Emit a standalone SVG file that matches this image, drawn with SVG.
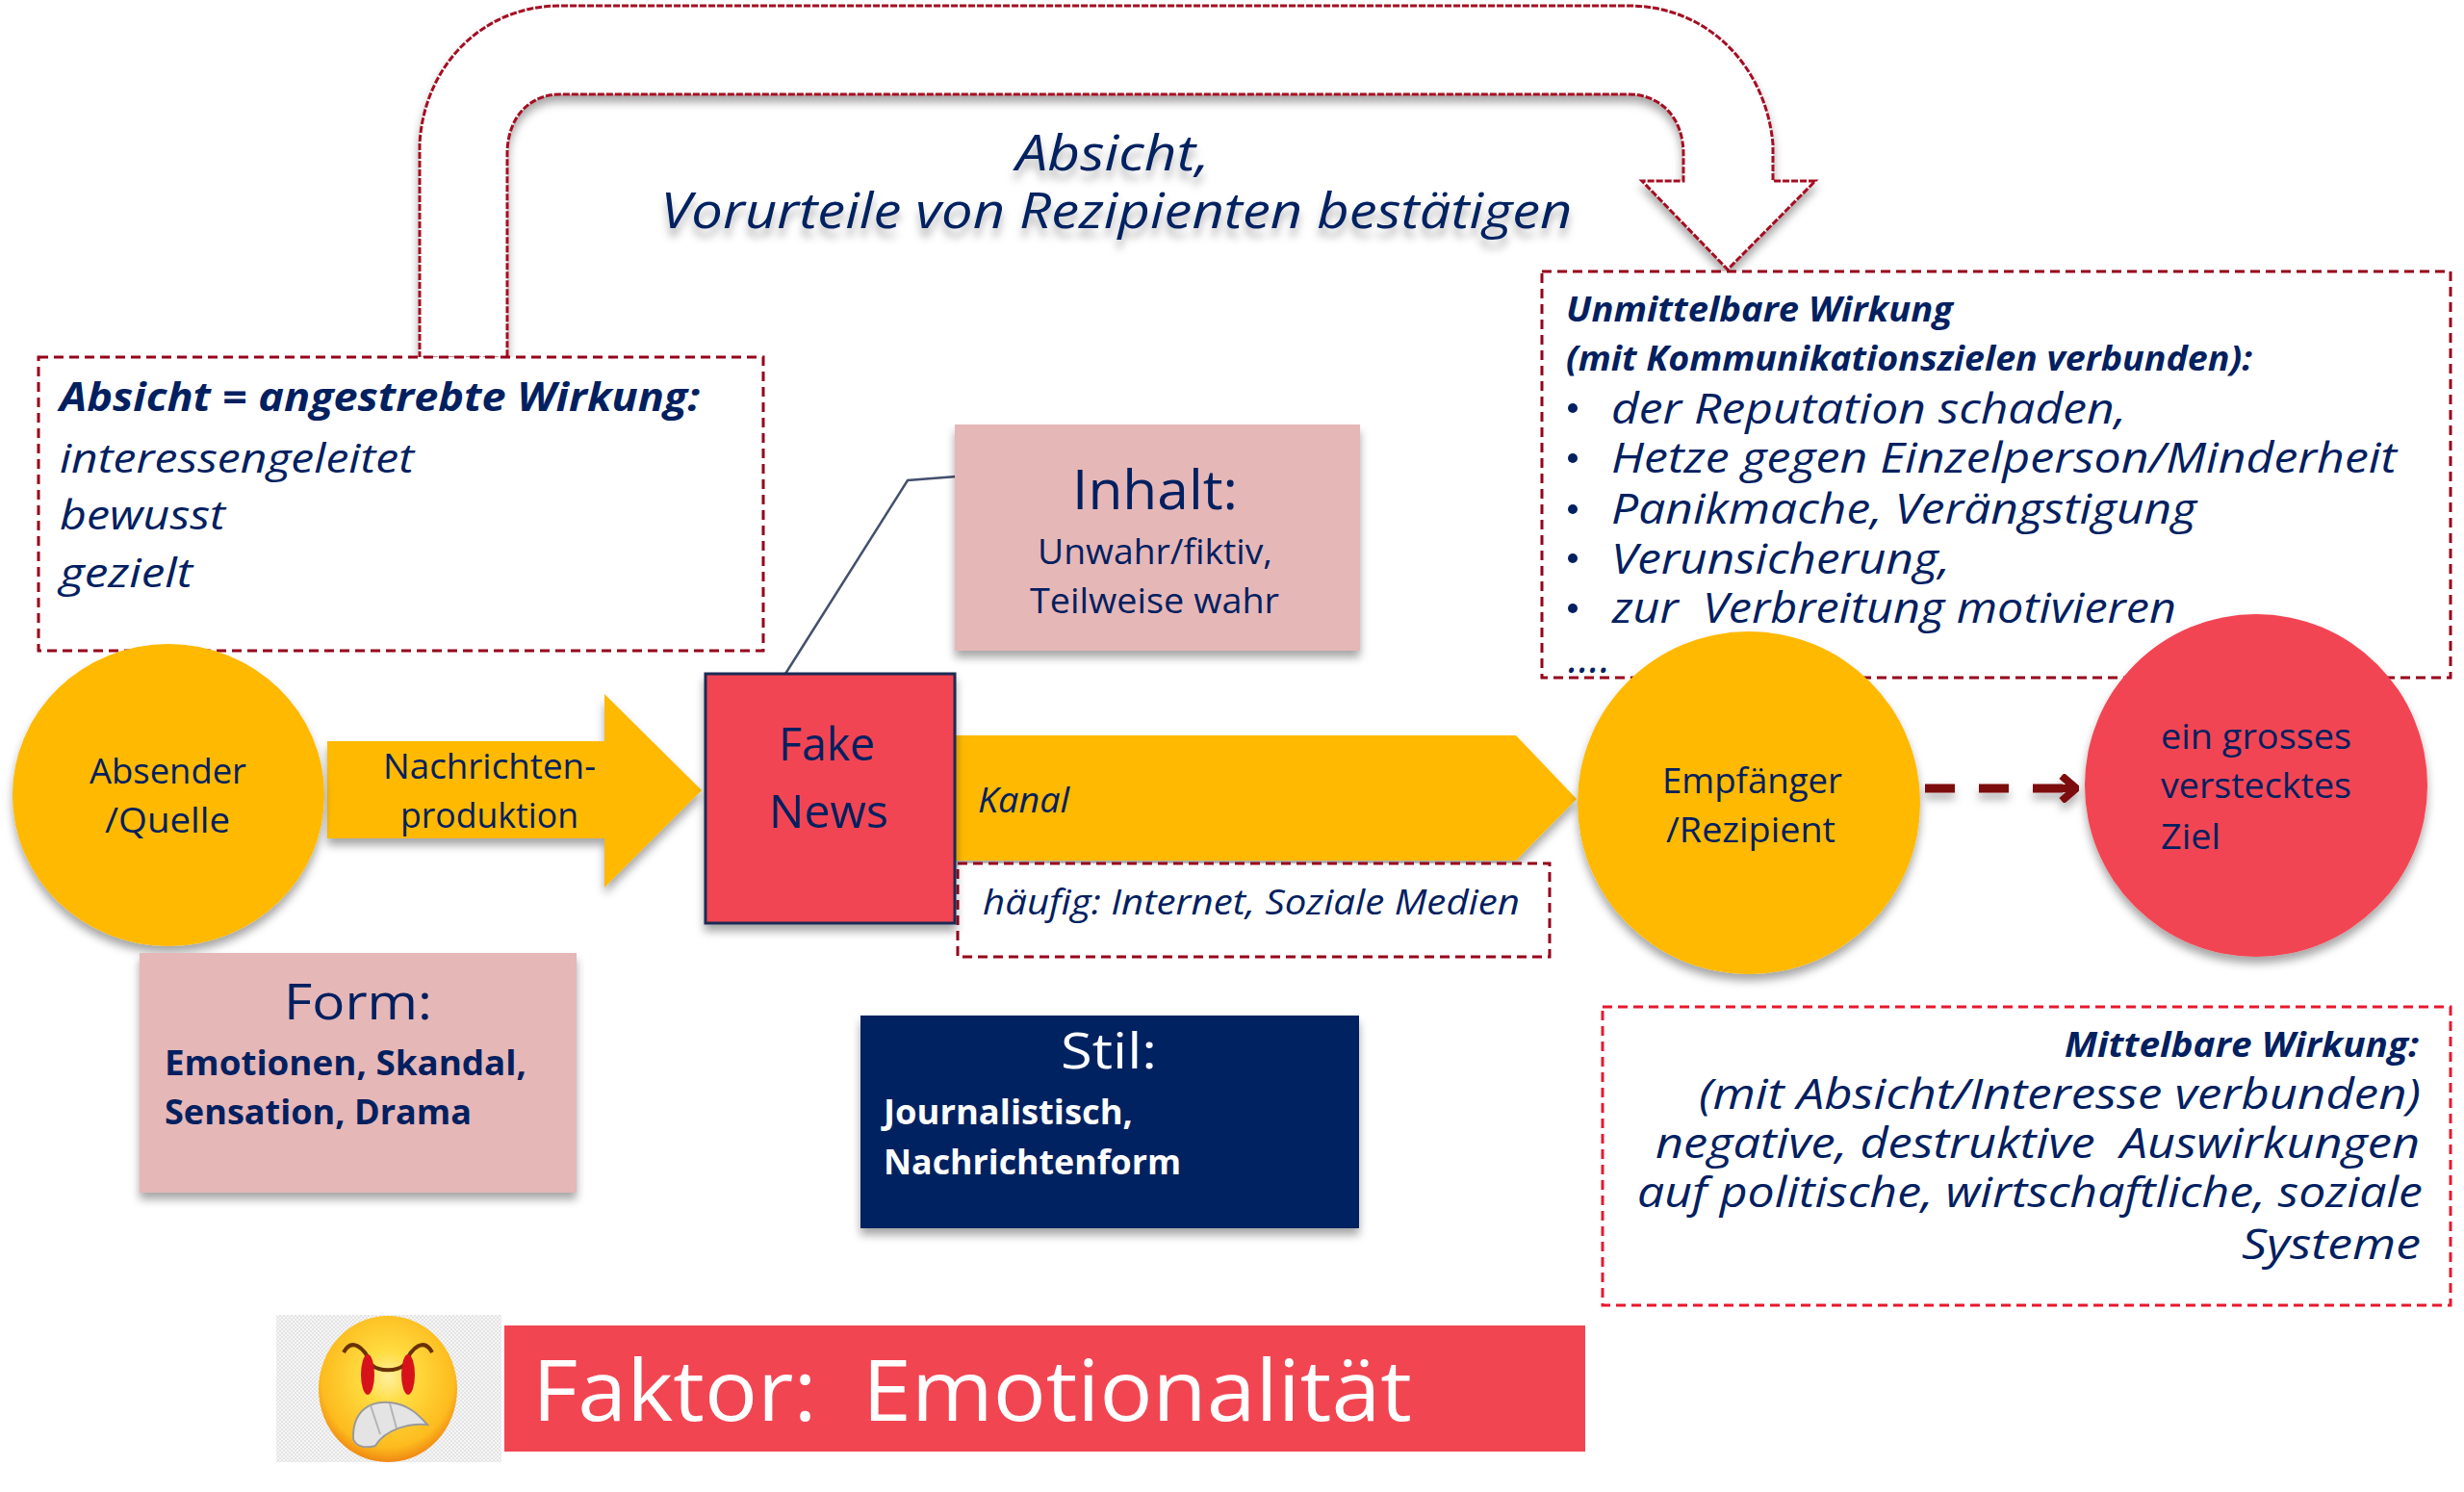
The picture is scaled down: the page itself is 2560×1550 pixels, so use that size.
<svg xmlns="http://www.w3.org/2000/svg" width="2560" height="1550" viewBox="0 0 2560 1550">
<defs>
<style>
text{font-family:"Open Sans","Noto Sans","Liberation Sans",sans-serif;fill:#002060;white-space:pre}
.i{font-style:italic}
.b{font-weight:700}
.c{text-anchor:middle}
.w{fill:#fff}
.box{fill:#fff;stroke:#96001a;stroke-width:3;stroke-dasharray:10 6}
.amber{fill:#ffb900}
.red{fill:#f24552}
.pink{fill:#e6b7b7}
</style>
<filter id="sh" x="-10%" y="-10%" width="120%" height="125%"><feDropShadow dx="0" dy="7" stdDeviation="5" flood-color="#000" flood-opacity=".35"/></filter>
<filter id="sl" filterUnits="userSpaceOnUse" x="1980" y="790" width="200" height="70"><feDropShadow dx="0" dy="7" stdDeviation="5" flood-color="#000" flood-opacity=".3"/></filter>
<filter id="ts" x="-5%" y="-20%" width="110%" height="160%"><feDropShadow dx="0" dy="9" stdDeviation="4" flood-color="#000" flood-opacity=".3"/></filter>
<pattern id="tile" width="4" height="4" patternUnits="userSpaceOnUse"><rect width="4" height="4" fill="#f6f6f6"/><rect width="2" height="2" fill="#e4e4e4"/><rect x="2" y="2" width="2" height="2" fill="#e4e4e4"/></pattern>
<radialGradient id="face" cx=".5" cy=".42" r=".6"><stop offset="0" stop-color="#fff0a0"/><stop offset=".3" stop-color="#ffdc40"/><stop offset=".8" stop-color="#fdbb1e"/><stop offset="1" stop-color="#ec7d10"/></radialGradient>
<marker id="ah" viewBox="0 0 28 30" refX="26" refY="15" markerWidth="28" markerHeight="30" markerUnits="userSpaceOnUse" orient="auto"><path d="M0 15H24M10 2L25 15L10 28" fill="none" stroke="#7d0a0a" stroke-width="8"/></marker>
</defs>
<rect width="2560" height="1550" fill="#fff"/>

<g id="absicht-pfeil">
<path d="M436 372V150C440 70 500 6 582 6H1692C1775 6 1835 70 1842 150V188H1886L1795 280L1706 188H1749V160C1749 122 1725 98 1692 98H582C550 98 527 122 527 160V372Z" fill="#fff" stroke="#a50f22" stroke-width="3" stroke-dasharray="7 2" filter="url(#sh)"/>
<text class="i c" x="1156" y="177" font-size="52" textLength="201" lengthAdjust="spacingAndGlyphs" filter="url(#ts)">Absicht,</text>
<text class="i c" x="1160" y="237" font-size="52" textLength="947" lengthAdjust="spacingAndGlyphs" filter="url(#ts)">Vorurteile von Rezipienten bestätigen</text>
</g>

<g id="absicht-box">
<rect class="box" x="40" y="371" width="753" height="305"/>
<text class="i b" x="62" y="427" font-size="41" textLength="665" lengthAdjust="spacingAndGlyphs">Absicht = angestrebte Wirkung:</text>
<text class="i" x="62" y="491" font-size="42" textLength="368" lengthAdjust="spacingAndGlyphs">interessengeleitet</text>
<text class="i" x="62" y="550" font-size="42" textLength="172" lengthAdjust="spacingAndGlyphs">bewusst</text>
<text class="i" x="62" y="610" font-size="42" textLength="138" lengthAdjust="spacingAndGlyphs">gezielt</text>
</g>

<g id="unmittelbare-box">
<rect class="box" x="1602" y="282" width="944" height="422"/>
<text class="i b" x="1627" y="334" font-size="36" textLength="402" lengthAdjust="spacingAndGlyphs">Unmittelbare Wirkung</text>
<text class="i b" x="1627" y="385" font-size="36" textLength="713" lengthAdjust="spacingAndGlyphs">(mit Kommunikationszielen verbunden):</text>
<circle cx="1634" cy="424" r="5" fill="#002060"/><circle cx="1634" cy="476" r="5" fill="#002060"/><circle cx="1634" cy="529" r="5" fill="#002060"/><circle cx="1634" cy="580" r="5" fill="#002060"/><circle cx="1634" cy="632" r="5" fill="#002060"/>
<text class="i" x="1674" y="440" font-size="44" textLength="535" lengthAdjust="spacingAndGlyphs">der Reputation schaden,</text>
<text class="i" x="1674" y="491" font-size="44" textLength="816" lengthAdjust="spacingAndGlyphs">Hetze gegen Einzelperson/Minderheit</text>
<text class="i" x="1674" y="544" font-size="44" textLength="608" lengthAdjust="spacingAndGlyphs">Panikmache, Verängstigung</text>
<text class="i" x="1674" y="596" font-size="44" textLength="352" lengthAdjust="spacingAndGlyphs">Verunsicherung,</text>
<text class="i" x="1675" y="647" font-size="44" textLength="586" lengthAdjust="spacingAndGlyphs">zur  Verbreitung motivieren</text>
<text class="i" x="1629" y="699" font-size="44">....</text>
</g>

<g id="connectors">
<path d="M816 700L943 499L994 495" fill="none" stroke="#44506e" stroke-width="2.5"/>
<path d="M340 770H628V721L729 821L628 922V871H340Z" class="amber" filter="url(#sh)"/>
<path d="M990 764H1575L1638 830L1575 894H990Z" class="amber" filter="url(#sh)"/>
<path d="M2000 819H2158" fill="none" stroke="#7d0a0a" stroke-width="9" stroke-dasharray="31 25" marker-end="url(#ah)" filter="url(#sl)"/>
</g>

<g id="haeufig-box">
<rect class="box" x="995" y="897" width="615" height="97"/>
<text class="i" x="1021" y="950" font-size="36" textLength="558" lengthAdjust="spacingAndGlyphs">häufig: Internet, Soziale Medien</text>
</g>

<g id="absender">
<ellipse class="amber" cx="175" cy="826" rx="162" ry="157" filter="url(#sh)"/>
<text x="93" y="814" font-size="36" textLength="163" lengthAdjust="spacingAndGlyphs">Absender</text>
<text x="109" y="865" font-size="36" textLength="130" lengthAdjust="spacingAndGlyphs">/Quelle</text>
</g>
<g id="nachrichtenproduktion">
<text x="398" y="809" font-size="36" textLength="221" lengthAdjust="spacingAndGlyphs">Nachrichten-</text>
<text x="416" y="860" font-size="36" textLength="185" lengthAdjust="spacingAndGlyphs">produktion</text>
</g>
<g id="fake-news">
<rect x="733" y="700" width="259" height="259" class="red" stroke="#1c2a52" stroke-width="3" filter="url(#sh)"/>
<text x="809" y="790" font-size="48" textLength="100" lengthAdjust="spacingAndGlyphs">Fake</text>
<text x="799" y="860" font-size="48" textLength="124" lengthAdjust="spacingAndGlyphs">News</text>
</g>
<g id="inhalt">
<rect x="992" y="441" width="421" height="235" class="pink" filter="url(#sh)"/>
<text x="1114" y="529" font-size="56" textLength="172" lengthAdjust="spacingAndGlyphs">Inhalt:</text>
<text x="1078" y="586" font-size="36" textLength="244" lengthAdjust="spacingAndGlyphs">Unwahr/fiktiv,</text>
<text x="1070" y="637" font-size="36" textLength="259" lengthAdjust="spacingAndGlyphs">Teilweise wahr</text>
</g>
<g id="kanal">
<text class="i" x="1016" y="844" font-size="36" textLength="95" lengthAdjust="spacingAndGlyphs">Kanal</text>
</g>
<g id="empfaenger">
<circle class="amber" cx="1817" cy="834" r="178" filter="url(#sh)"/>
<text x="1727" y="824" font-size="36" textLength="187" lengthAdjust="spacingAndGlyphs">Empfänger</text>
<text x="1731" y="875" font-size="36" textLength="176" lengthAdjust="spacingAndGlyphs">/Rezipient</text>
</g>
<g id="ziel">
<circle class="red" cx="2344" cy="816" r="178" filter="url(#sh)"/>
<text x="2245" y="778" font-size="36" textLength="198" lengthAdjust="spacingAndGlyphs">ein grosses</text>
<text x="2245" y="829" font-size="36" textLength="198" lengthAdjust="spacingAndGlyphs">verstecktes</text>
<text x="2245" y="882" font-size="36" textLength="62" lengthAdjust="spacingAndGlyphs">Ziel</text>
</g>
<g id="form">
<rect x="145" y="990" width="454" height="249" class="pink" filter="url(#sh)"/>
<text x="295" y="1059" font-size="52" textLength="154" lengthAdjust="spacingAndGlyphs">Form:</text>
<text class="b" x="171" y="1117" font-size="36" textLength="376" lengthAdjust="spacingAndGlyphs">Emotionen, Skandal,</text>
<text class="b" x="171" y="1168" font-size="36" textLength="319" lengthAdjust="spacingAndGlyphs">Sensation, Drama</text>
</g>
<g id="stil">
<rect x="894" y="1055" width="518" height="221" fill="#002060" filter="url(#sh)"/>
<text class="w" x="1102" y="1110" font-size="52" textLength="100" lengthAdjust="spacingAndGlyphs">Stil:</text>
<text class="b w" x="918" y="1168" font-size="36" textLength="259" lengthAdjust="spacingAndGlyphs">Journalistisch,</text>
<text class="b w" x="918" y="1220" font-size="36" textLength="309" lengthAdjust="spacingAndGlyphs">Nachrichtenform</text>
</g>
<g id="mittelbare-box">
<rect x="1665" y="1046" width="881" height="310" fill="#fff" stroke="#e8182c" stroke-width="3" stroke-dasharray="10 6"/>
<text class="i b" x="2145" y="1098" font-size="36" textLength="368" lengthAdjust="spacingAndGlyphs">Mittelbare Wirkung:</text>
<text class="i" x="1765" y="1152" font-size="44" textLength="750" lengthAdjust="spacingAndGlyphs">(mit Absicht/Interesse verbunden)</text>
<text class="i" x="1720" y="1203" font-size="44" textLength="794" lengthAdjust="spacingAndGlyphs">negative, destruktive  Auswirkungen</text>
<text class="i" x="1701" y="1254" font-size="44" textLength="816" lengthAdjust="spacingAndGlyphs">auf politische, wirtschaftliche, soziale</text>
<text class="i" x="2329" y="1308" font-size="44" textLength="186" lengthAdjust="spacingAndGlyphs">Systeme</text>
</g>
<g id="emoji">
<rect x="287" y="1366" width="234" height="153" fill="url(#tile)"/>
<ellipse cx="403" cy="1443" rx="72" ry="76" fill="url(#face)"/>
<path d="M357 1405C365 1390 378 1398 386 1418C394 1425 412 1425 420 1418C428 1398 441 1390 449 1405" fill="none" stroke="#6a3208" stroke-width="4"/>
<ellipse cx="382" cy="1428" rx="7" ry="21" fill="#d8121a"/><ellipse cx="424" cy="1428" rx="7" ry="21" fill="#d8121a"/>
<path d="M367 1495C366 1465 385 1455 405 1457C425 1459 435 1470 444 1480C425 1478 400 1485 390 1502C380 1505 370 1503 367 1495Z" fill="#e4e4e4" stroke="#9a9a9a" stroke-width="2"/>
<path d="M385 1460L395 1490M405 1458L412 1484" stroke="#b4b4b4" stroke-width="2" fill="none"/>
</g>
<g id="faktor">
<rect x="524" y="1377" width="1123" height="131" class="red"/>
<text class="w" x="553" y="1476" font-size="88" textLength="914" lengthAdjust="spacingAndGlyphs">Faktor:  Emotionalität</text>
</g>
</svg>
